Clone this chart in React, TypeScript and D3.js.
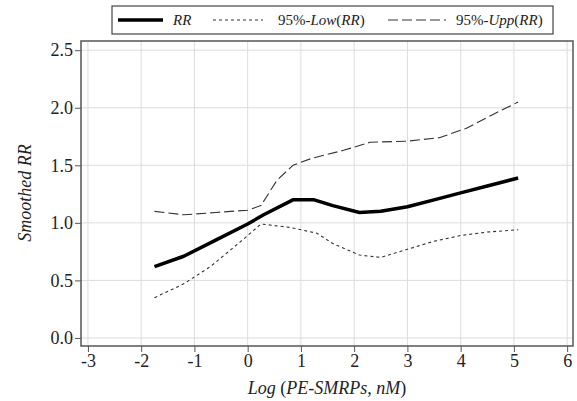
import React from "react";
import * as d3 from "d3";
import { useEffect, useRef } from "react";

// smoothed relative risk vs log exposure
const rrX = [-1.75, -1.2, -0.6, 0, 0.3, 0.85, 1.25, 1.6, 2.1, 2.5, 3.0, 3.5, 4.0, 4.5, 5.08];
const rrY = [0.62, 0.71, 0.85, 0.99, 1.07, 1.2, 1.2, 1.15, 1.09, 1.1, 1.14, 1.2, 1.26, 1.32, 1.39];

const lowX = [-1.75, -1.2, -0.7, -0.15, 0.25, 0.8, 1.3, 1.6, 2.1, 2.5, 3.0, 3.5, 4.0, 4.5, 5.08];
const lowY = [0.35, 0.47, 0.62, 0.83, 0.99, 0.96, 0.91, 0.82, 0.72, 0.7, 0.77, 0.84, 0.89, 0.92, 0.94];

const uppX = [-1.75, -1.2, -0.6, 0, 0.25, 0.55, 0.85, 1.2, 1.8, 2.3, 3.0, 3.6, 4.1, 4.6, 5.08];
const uppY = [1.1, 1.07, 1.09, 1.11, 1.15, 1.37, 1.5, 1.56, 1.63, 1.7, 1.71, 1.74, 1.82, 1.94, 2.05];

const xTicks = [-3, -2, -1, 0, 1, 2, 3, 4, 5, 6];
const yTicks = [0, 0.5, 1, 1.5, 2, 2.5];

const width = 577;
const height = 401;
const serif = "Liberation Serif";

export default function App() {
  const svgRef = useRef<SVGSVGElement>(null);

  useEffect(() => {
    const svg = d3.select(svgRef.current);
    svg.selectAll("*").remove();

    const left = 81;
    const right = 573;
    const top = 41;
    const bottom = 346;

    const xScale = d3.scaleLinear().domain([-3.13, 6.11]).range([left, right]);
    const yScale = d3.scaleLinear().domain([-0.07, 2.58]).range([bottom, top]);

    // gridlines
    svg
      .append("g")
      .selectAll("line")
      .data(xTicks)
      .enter()
      .append("line")
      .attr("x1", (d) => xScale(d))
      .attr("x2", (d) => xScale(d))
      .attr("y1", top)
      .attr("y2", bottom)
      .attr("stroke", "#dcdcdc")
      .attr("stroke-width", 1);

    svg
      .append("g")
      .selectAll("line")
      .data(yTicks)
      .enter()
      .append("line")
      .attr("x1", left)
      .attr("x2", right)
      .attr("y1", (d) => yScale(d))
      .attr("y2", (d) => yScale(d))
      .attr("stroke", "#dcdcdc")
      .attr("stroke-width", 1);

    const line = d3
      .line<[number, number]>()
      .x((d) => xScale(d[0]))
      .y((d) => yScale(d[1]));

    const series = [
      { xs: lowX, ys: lowY, w: 1.1, dash: "3,3", color: "#333" },
      { xs: uppX, ys: uppY, w: 1.1, dash: "10,4", color: "#333" },
      { xs: rrX, ys: rrY, w: 3.5, dash: null, color: "#000" },
    ];

    series.forEach((s) => {
      svg
        .append("path")
        .datum(s.xs.map((x, i) => [x, s.ys[i]] as [number, number]))
        .attr("d", line)
        .attr("fill", "none")
        .attr("stroke", s.color)
        .attr("stroke-width", s.w)
        .attr("stroke-dasharray", s.dash)
        .attr("stroke-linejoin", "round");
    });

    // frame
    svg
      .append("rect")
      .attr("x", left)
      .attr("y", top)
      .attr("width", right - left)
      .attr("height", bottom - top)
      .attr("fill", "none")
      .attr("stroke", "#555")
      .attr("stroke-width", 1.5);

    const xAxis = d3
      .axisBottom(xScale)
      .tickValues(xTicks)
      .tickSizeInner(6)
      .tickSizeOuter(0)
      .tickPadding(2)
      .tickFormat((d) => String(d));

    const yAxis = d3
      .axisLeft(yScale)
      .tickValues(yTicks)
      .tickSizeInner(6)
      .tickSizeOuter(0)
      .tickPadding(2)
      .tickFormat(d3.format(".1f"));

    const gx = svg
      .append("g")
      .attr("transform", `translate(0, ${bottom})`)
      .call(xAxis);
    gx.select(".domain").remove();
    gx.selectAll("line").attr("stroke", "#555");
    gx.selectAll("text")
      .attr("font-family", serif)
      .attr("font-size", 18)
      .attr("fill", "#222");

    const gy = svg
      .append("g")
      .attr("transform", `translate(${left}, 0)`)
      .call(yAxis);
    gy.select(".domain").remove();
    gy.selectAll("line").attr("stroke", "#555");
    gy.selectAll("text")
      .attr("font-family", serif)
      .attr("font-size", 18)
      .attr("fill", "#222");
    svg.selectAll(".tick text").attr("font-family", serif);
    svg.selectAll("g").attr("font-family", serif);

    // axis titles
    const xt = svg
      .append("text")
      .attr("x", 327)
      .attr("y", 394)
      .attr("text-anchor", "middle")
      .attr("font-family", serif)
      .attr("font-size", 18)
      .attr("fill", "#222");
    xt.append("tspan").attr("font-style", "italic").text("Log ");
    xt.append("tspan").text("(");
    xt.append("tspan").attr("font-style", "italic").text("PE-SMRPs, nM");
    xt.append("tspan").text(")");

    svg
      .append("text")
      .attr("transform", `translate(31, 193) rotate(-90)`)
      .attr("text-anchor", "middle")
      .attr("font-family", serif)
      .attr("font-size", 18)
      .attr("font-style", "italic")
      .attr("fill", "#222")
      .text("Smoothed RR");

    // legend
    const legend = svg.append("g");
    legend
      .append("rect")
      .attr("x", 112)
      .attr("y", 6)
      .attr("width", 441)
      .attr("height", 28)
      .attr("fill", "#fff")
      .attr("stroke", "#444")
      .attr("stroke-width", 1.2);

    const items = [
      { x1: 118, x2: 163, tx: 173, w: 3.5, dash: null, parts: [["RR", true]] },
      {
        x1: 213,
        x2: 263,
        tx: 278,
        w: 1.1,
        dash: "3,3",
        parts: [["95%-", false], ["Low", true], ["(", false], ["RR", true], [")", false]],
      },
      {
        x1: 388,
        x2: 446,
        tx: 456,
        w: 1.1,
        dash: "10,4",
        parts: [["95%-", false], ["Upp", true], ["(", false], ["RR", true], [")", false]],
      },
    ];

    items.forEach((it) => {
      legend
        .append("line")
        .attr("x1", it.x1)
        .attr("x2", it.x2)
        .attr("y1", 20)
        .attr("y2", 20)
        .attr("stroke", it.w > 2 ? "#000" : "#333")
        .attr("stroke-width", it.w)
        .attr("stroke-dasharray", it.dash);
      const t = legend
        .append("text")
        .attr("x", it.tx)
        .attr("y", 25)
        .attr("font-family", serif)
        .attr("font-size", 15)
        .attr("fill", "#222");
      it.parts.forEach((p) => {
        t.append("tspan")
          .attr("font-style", p[1] ? "italic" : "normal")
          .text(p[0] as string);
      });
    });
  }, []);

  return (
    <svg
      ref={svgRef}
      width={width}
      height={height}
      style={{ position: "fixed", left: 0, top: 0, background: "#fff" }}
    ></svg>
  );
}
